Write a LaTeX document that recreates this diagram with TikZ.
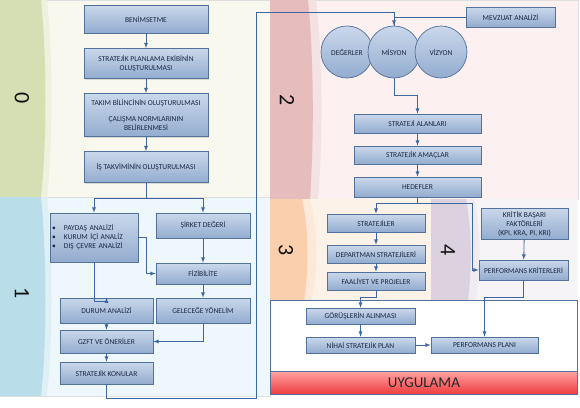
\documentclass[tikz,border=0pt]{standalone}
\usepackage{fontspec}
\setmainfont{Carlito}
\usepackage{tikz}
\usetikzlibrary{shapes.geometric, arrows, calc, positioning, shadows}
\definecolor{boxtop}{HTML}{CAD8EB}
\definecolor{boxbot}{HTML}{93ACCF}
\definecolor{boxline}{HTML}{52719B}
\definecolor{boxtext}{HTML}{1A2842}
\definecolor{wire}{HTML}{3E67A2}
\definecolor{bgzero}{HTML}{F8F8EF}
\definecolor{stzero}{HTML}{D6DFB4}
\definecolor{bgone}{HTML}{EEF7FB}
\definecolor{stone}{HTML}{B9DDE9}
\definecolor{bgtwo}{HTML}{FCF0F0}
\definecolor{sttwo}{HTML}{E7BCBC}
\definecolor{bgthree}{HTML}{FDF2E8}
\definecolor{stthree}{HTML}{F9CFAD}
\definecolor{bgfour}{HTML}{F7F4F8}
\definecolor{stfour}{HTML}{DCD2DF}
\definecolor{redtop}{HTML}{FFA3A3}
\definecolor{redbot}{HTML}{F03A3D}
\definecolor{numtext}{HTML}{111111}
\tikzstyle{block} = [rectangle, draw=boxline, line width=0.7pt, top color=boxtop, bottom color=boxbot, text=boxtext, align=center, inner sep=1pt, drop shadow={shadow xshift=1pt, shadow yshift=-1pt, opacity=0.25}]
\tikzstyle{stage} = [circle, draw=boxline, line width=0.7pt, top color=boxtop, bottom color=boxbot, text=boxtext, minimum size=52pt, inner sep=0pt]
\tikzstyle{phase} = [rotate=-90, text=numtext, font=\fontsize{22}{22}\selectfont]
\tikzstyle{arrow} = [draw=wire, line width=0.8pt, ->, >=latex]
\tikzstyle{link} = [draw=wire, line width=0.8pt]

\begin{document}
\begin{tikzpicture}[x=1pt, y=-1pt, every node/.style={font=\fontsize{7.5}{9}\selectfont}]
	\useasboundingbox (0,0) rectangle (580,407);
	% phase panels
	\fill[bgzero, draw=gray!25] (0,0) rectangle (270,197);
	\fill[stzero!45] (0,0) -- (47,0) .. controls (53,60) and (53,140) .. (47,197) -- (0,197) -- cycle;
	\fill[stzero] (0,0) -- (41,0) .. controls (47,60) and (47,140) .. (41,197) -- (0,197) -- cycle;
	\fill[bgone, draw=gray!25] (0,197) rectangle (270,396);
	\fill[stone!45] (0,197) -- (47,197) .. controls (53,260) and (53,340) .. (47,396) -- (0,396) -- cycle;
	\fill[stone] (0,197) -- (41,197) .. controls (47,260) and (47,340) .. (41,396) -- (0,396) -- cycle;
	\fill[bgtwo, draw=gray!25] (270,0) rectangle (578,199);
	\fill[sttwo!45] (270,0) -- (316,0) .. controls (323,60) and (323,140) .. (318,199) -- (270,199) -- cycle;
	\fill[sttwo] (270,0) -- (308,0) .. controls (314,60) and (314,140) .. (310,199) -- (270,199) -- cycle;
	\fill[bgthree] (270,199) rectangle (431,300);
	\fill[stthree!45] (270,199) -- (310,199) .. controls (318,230) and (318,270) .. (312,300) -- (270,300) -- cycle;
	\fill[stthree] (270,199) -- (302,199) .. controls (309,230) and (309,270) .. (304,300) -- (270,300) -- cycle;
	\fill[bgfour] (431,199) rectangle (578,300);
	\fill[stfour!45] (431,199) -- (474,199) .. controls (481,230) and (481,270) .. (476,300) -- (431,300) -- cycle;
	\fill[stfour] (431,199) -- (466,199) .. controls (472,230) and (472,270) .. (468,300) -- (431,300) -- cycle;
	\fill[white, draw=boxline, line width=0.8pt] (270,300) rectangle (577,371);

	% phase numbers
	\node (Num0) [phase] at (22,98) {0};
	\node (Num1) [phase] at (22,293) {1};
	\node (Num2) [phase] at (287,100) {2};
	\node (Num3) [phase] at (286,250) {3};
	\node (Num4) [phase] at (448,250) {4};

	\node (Uygulama) [rectangle, draw=boxline, line width=0.8pt, top color=redtop, bottom color=redbot, minimum width=307pt, minimum height=23pt, anchor=north west, font=\fontsize{15}{15}\selectfont, text=black!85] at (270,371) {UYGULAMA};

	% phase 0
	\node (Benimseme) [block, minimum width=124pt, minimum height=28pt] at (146,19) {BENİMSETME};
	\node (Ekip) [block, minimum width=124pt, minimum height=30pt] at (146,63.5) {STRATEJİK PLANLAMA EKİBİNİN\\OLUŞTURULMASI};
	\node (Takim) [block, minimum width=124pt, minimum height=43pt] at (146,115) {TAKIM BİLİNCİNİN OLUŞTURULMASI\\[7pt]ÇALIŞMA NORMLARININ\\BELİRLENMESİ};
	\node (Takvim) [block, minimum width=124pt, minimum height=31pt] at (146,167) {İŞ TAKVİMİNİN OLUŞTURULMASI};

	% phase 1
	\node (Paydas) [block, minimum width=88pt, minimum height=49pt, text width=84pt, align=left] at (94,237.5) {\makebox[12pt][l]{\textbullet}PAYDAŞ ANALİZİ\\\makebox[12pt][l]{\textbullet}KURUM İÇİ ANALİZ\\\makebox[12pt][l]{\textbullet}DIŞ ÇEVRE ANALİZİ};
	\node (Sirket) [block, minimum width=94pt, minimum height=25pt] at (203,225.5) {ŞİRKET DEĞERİ};
	\node (Fizibilite) [block, minimum width=94pt, minimum height=21pt] at (203,273.5) {FİZİBİLİTE};
	\node (Durum) [block, minimum width=93pt, minimum height=25pt] at (106.5,310.5) {DURUM ANALİZİ};
	\node (Gelecek) [block, minimum width=94pt, minimum height=25pt] at (203,310.5) {GELECEĞE YÖNELİM};
	\node (Gzft) [block, minimum width=93pt, minimum height=23pt] at (106.5,341.5) {GZFT VE ÖNERİLER};
	\node (Konular) [block, minimum width=93pt, minimum height=22pt] at (106.5,373) {STRATEJİK KONULAR};

	% phase 2
	\node (Mevzuat) [block, minimum width=89pt, minimum height=20pt] at (510.5,17) {MEVZUAT ANALİZİ};
	\node (Degerler) [stage] at (347,52) {DEĞERLER};
	\node (Misyon) [stage] at (394,52) {MİSYON};
	\node (Vizyon) [stage] at (441,52) {VİZYON};
	\node (Alanlar) [block, minimum width=127pt, minimum height=19pt] at (417.5,123.5) {STRATEJİ ALANLARI};
	\node (Amaclar) [block, minimum width=127pt, minimum height=18pt] at (417.5,155) {STRATEJİK AMAÇLAR};
	\node (Hedefler) [block, minimum width=127pt, minimum height=20pt] at (417.5,187) {HEDEFLER};

	% phase 3 and 4
	\node (Stratejiler) [block, minimum width=98pt, minimum height=18pt] at (376,223) {STRATEJİLER};
	\node (Departman) [block, minimum width=98pt, minimum height=18pt] at (376,254) {DEPARTMAN STRATEJİLERİ};
	\node (Faaliyet) [block, minimum width=98pt, minimum height=18pt] at (376,281) {FAALİYET VE PROJELER};
	\node (Kritik) [block, minimum width=87pt, minimum height=31pt] at (524.5,223.5) {KRİTİK BAŞARI\\FAKTÖRLERİ\\(KPI, KRA, PI, KRI)};
	\node (PerfKriter) [block, minimum width=89pt, minimum height=20pt] at (523.5,270) {PERFORMANS KRİTERLERİ};
	\node (Gorusler) [block, minimum width=109pt, minimum height=16pt] at (360.5,316) {GÖRÜŞLERİN ALINMASI};
	\node (Nihai) [block, minimum width=109pt, minimum height=16pt] at (360.5,345) {NİHAİ STRATEJİK PLAN};
	\node (PerfPlan) [block, minimum width=107pt, minimum height=16pt] at (484.5,345) {PERFORMANS PLANI};

	\coordinate (Split0) at (146,198);
	\coordinate (LoopA) at (256,398);
	\coordinate (LoopB) at (256,12);
	\coordinate (Split3) at (417.5,203);
	\coordinate (Split3R) at (472,203);

	\draw [arrow] (Benimseme) -- (Ekip);
	\draw [arrow] (Ekip) -- (Takim);
	\draw [arrow] (Takim) -- (Takvim);
	\draw [arrow] (Takvim) -- (Split0) -| (Paydas.north);
	\draw [arrow] (Split0) -| (Sirket.north);
	\draw [arrow] (Paydas.south) -- ++(0,39.5) -| (Durum.north);
	\draw [arrow] (Paydas.east) -- ++(8,0) |- (Fizibilite.west);
	\draw [arrow] (Sirket) -- (Fizibilite);
	\draw [arrow] (Fizibilite) -- (Gelecek);
	\draw [arrow] (Durum) -- (Gzft);
	\draw [arrow] (Gelecek.south) |- (Gzft.east);
	\draw [arrow] (Gzft) -- (Konular);
	\draw [arrow] (Konular.south) |- (LoopA) -- (LoopB) -| (Misyon.north);
	\draw [link] (Mevzuat.west) -| (Misyon.north);
	\draw [arrow] (Misyon.south) -- ++(0,17) -| (Alanlar.north);
	\draw [arrow] (Alanlar) -- (Amaclar);
	\draw [arrow] (Amaclar) -- (Hedefler);
	\draw [arrow] (Hedefler.south) -- (Split3) -| (Stratejiler.north);
	\draw [arrow] (Split3) -- (Split3R) |- (PerfKriter.west);
	\draw [arrow] (Stratejiler) -- (Departman);
	\draw [arrow] (Departman) -- (Faaliyet);
	\draw [arrow] (Faaliyet.south) -- ++(0,7) -| (Gorusler.north);
	\draw [arrow] (Gorusler) -- (Nihai);
	\draw [arrow] (Nihai) -- (PerfPlan);
	\draw [arrow] (Kritik) -- (PerfKriter);
	\draw [arrow] (PerfKriter.south) -- ++(0,17) -| (PerfPlan.north);
\end{tikzpicture}
\end{document}
